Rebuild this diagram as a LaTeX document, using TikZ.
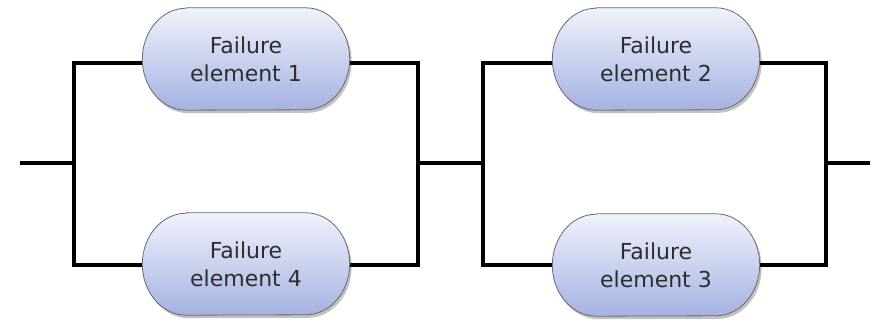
\documentclass[tikz,border=0pt]{standalone}
\usepackage{fontspec}
\setsansfont{DejaVu Sans}
\usetikzlibrary{positioning,shadows,calc,backgrounds}
\definecolor{PillTop}{RGB}{240,242,251}
\definecolor{PillBottom}{RGB}{164,178,226}
\definecolor{PillEdge}{RGB}{105,105,115}
\definecolor{LabelGray}{RGB}{45,45,45}

\begin{document}
\begin{tikzpicture}[x=1pt, y=-1pt, every node/.style={font=\sffamily\fontsize{22}{28}\selectfont, align=center, text=LabelGray}]
  \tikzset{
    pill/.style={rectangle, minimum width=207pt, minimum height=102pt, inner sep=2pt},
    pillbody/.style={draw=PillEdge, line width=0.8pt, top color=PillTop, bottom color=PillBottom,
      drop shadow={shadow xshift=2pt, shadow yshift=-3pt, opacity=0.35, fill=black!70}},
    wire/.style={line width=4pt, black}
  }
  \useasboundingbox (0,0) rectangle (874,323);

  % junction points of the two parallel pairs
  \coordinate (inL) at (20,163);
  \coordinate (splitA) at (74,163);
  \coordinate (joinA) at (418,163);
  \coordinate (splitB) at (483,163);
  \coordinate (joinB) at (826,163);
  \coordinate (outR) at (870,163);

  \node[pill] (fe1) at (246,59) {Failure\\element 1};
  \node[pill] (fe4) at (246,264) {Failure\\element 4};
  \node[pill] (fe2) at (656,59) {Failure\\element 2};
  \node[pill] (fe3) at (656,265) {Failure\\element 3};

  % capsule bodies with flattened ends
  \begin{scope}[on background layer]
    \foreach \n in {fe1,fe2,fe3,fe4}
      \path[pillbody] ($(\n.north west)+(44,0)$) -- ($(\n.north east)+(-44,0)$)
        arc[start angle=-90, end angle=90, x radius=44, y radius=51]
        -- ($(\n.south west)+(44,0)$)
        arc[start angle=90, end angle=270, x radius=44, y radius=51] -- cycle;
  \end{scope}

  \draw[wire] (inL) -- (splitA);
  \draw[wire] ($(fe1.west)+(0,4)$) -| (splitA) |- ($(fe4.west)+(0,1)$);
  \draw[wire] ($(fe1.east)+(0,4)$) -| (joinA) |- ($(fe4.east)+(0,1)$);
  \draw[wire] (joinA) -- (splitB);
  \draw[wire] ($(fe2.west)+(0,4)$) -| (splitB) |- (fe3.west);
  \draw[wire] ($(fe2.east)+(0,4)$) -| (joinB) |- (fe3.east);
  \draw[wire] (joinB) -- (outR);
\end{tikzpicture}
\end{document}
